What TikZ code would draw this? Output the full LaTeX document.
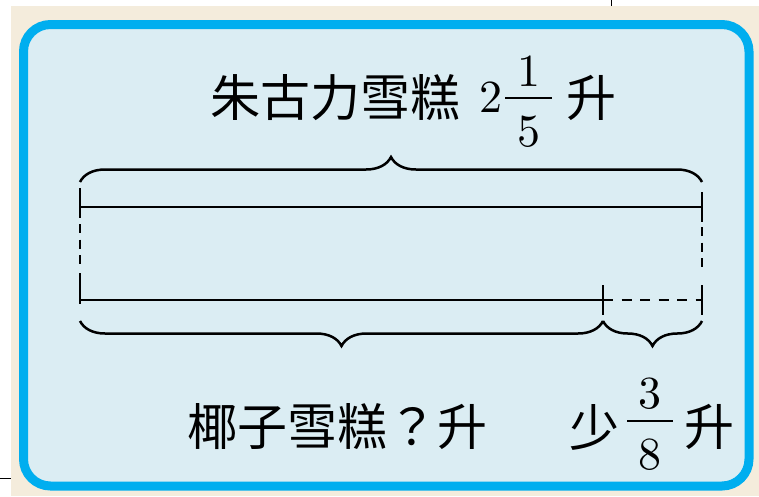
\documentclass[tikz,border=0pt]{standalone}
\usepackage{fontspec}
\newfontfamily\cjk{Noto Sans CJK TC}
\newfontfamily\numfont{lmroman10-regular.otf}
\usepackage{tikz}
\usetikzlibrary{positioning,decorations.pathreplacing}

\definecolor{paper}{RGB}{244,236,220}
\definecolor{frameblue}{RGB}{0,174,239}
\definecolor{framefill}{RGB}{219,237,243}

\begin{document}
\begin{tikzpicture}[
            x = 1pt, y = -1pt, % one unit per pixel, y downwards
            line width = 2.5pt, % bar line style
            node distance = 10pt
        ]

        \tikzstyle{cjk}=[inner sep = 0pt, font = \cjk\fontsize{50}{60}\selectfont]
        \tikzstyle{num}=[inner sep = 0pt, font = \numfont\fontsize{46}{50}\selectfont]
        \tikzstyle{dashbar}=[dash pattern = on 9pt off 6.5pt]
        \tikzstyle{curly}=[decorate, decoration = {brace, amplitude = 25pt}]

        % page and frame
        \useasboundingbox (0,0) rectangle (759,496);
        \fill[paper] (11,6) rectangle (759,496);
        \draw[line width = 1pt] (611,0) -- (611,6);
        \draw[line width = 1pt] (0,478) -- (11,478);
        \draw[frameblue, fill = framefill, line width = 9pt, rounded corners = 27pt]
            (23.5,24.5) rectangle (749,486);

        % bar ends
        \coordinate (a1) at (80,207);
        \coordinate (a2) at (702,207);
        \coordinate (b1) at (80,300);
        \coordinate (b3) at (603,300);
        \coordinate (b2) at (702,300);

        \draw (a1) -- (a2);
        \draw (b1) -- (b3);
        \draw[dash pattern = on 10pt off 8.5pt] (b3) -- (b2);

        % end marks
        \draw (a1) ++(0,-19) -- ++(0,30);
        \draw[dashbar] (a1) ++(0,17) -- ++(0,46);
        \draw (b1) ++(0,-27) -- ++(0,31);
        \draw (a2) ++(0,-15) -- ++(0,30);
        \draw[dashbar] (a2) ++(0,20) -- ++(0,45);
        \draw (b2) ++(0,-15) -- ++(0,30);
        \draw (b3) ++(0,-15) -- ++(0,30);

        % braces
        \coordinate (t1) at (80,182);
        \coordinate (t2) at (702,182);
        \coordinate (u1) at (80,321);
        \coordinate (u3) at (603,321);
        \coordinate (u2) at (702,321);
        \draw[curly] (t1) -- (t2);
        \draw[curly] (u3) -- (u1);
        \draw[curly] (u2) -- (u3);

        % top label
        \node[cjk] (choc) at (335,97.5) {朱古力雪糕};
        \node[num, right = 17pt of choc] (whole) {2};
        \coordinate (f1) at (505,98);
        \coordinate (f2) at (552,98);
        \coordinate (fm) at (528.5,98);
        \draw[line width = 2pt] (f1) -- (f2);
        \node[num, above = 10pt of fm] (num1) {1};
        \node[num, below = 17pt of fm] (den1) {5};
        \node[cjk, right = 13pt of f2] (unit1) {升};

        % bottom labels
        \node[cjk] (coco) at (337,427) {椰子雪糕？升};
        \coordinate (g1) at (627,421);
        \coordinate (g2) at (673,421);
        \coordinate (gm) at (650,421);
        \draw[line width = 2pt] (g1) -- (g2);
        \node[num, above = 10pt of gm] (num2) {3};
        \node[num, below = 17pt of gm] (den2) {8};
        \node[cjk] (less) at (594.5,427) {少};
        \node[cjk] (unit2) at (709,427) {升};

    \end{tikzpicture}
\end{document}
